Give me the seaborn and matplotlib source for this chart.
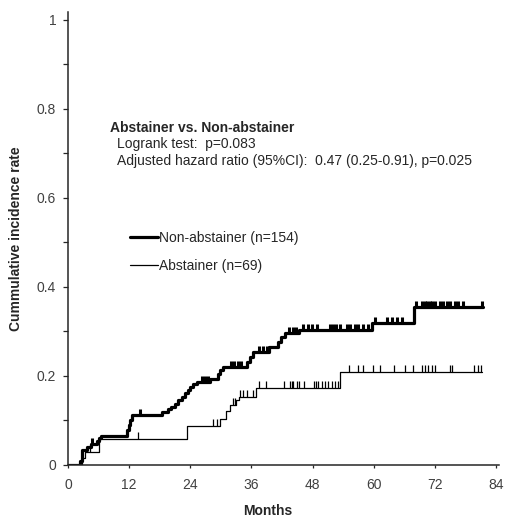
import numpy as np
import pandas as pd
import seaborn as sns
import matplotlib
matplotlib.use("Agg")
import matplotlib.pyplot as plt
from matplotlib.path import Path
from matplotlib.ticker import MultipleLocator

# cumulative incidence step curves (event month, level after the step)
nonab_time = [0, 2.3, 2.7, 3.7, 4.6, 5.6, 6.0, 6.5, 11.5, 11.9, 12.2, 12.6,
              18.4, 19.7, 20.3, 21.0, 21.6, 22.3, 23.0, 23.6, 23.9, 24.6,
              25.3, 27.8, 29.5, 29.8, 30.5, 35.1, 35.7, 36.4, 39.5, 41.3,
              41.9, 42.6, 45.3, 59.6, 68.0, 81.5]
nonab_cuminc = [0, 0.008, 0.033, 0.040, 0.046, 0.053, 0.059, 0.065, 0.078,
                0.089, 0.100, 0.111, 0.119, 0.124, 0.130, 0.137, 0.145, 0.152,
                0.160, 0.167, 0.175, 0.182, 0.186, 0.192, 0.203, 0.212, 0.220,
                0.231, 0.242, 0.253, 0.263, 0.276, 0.287, 0.295, 0.302, 0.317,
                0.355, 0.355]
nonab_censor = [4.8, 14.1, 26.3, 26.9, 27.4, 32.0, 32.6, 33.3, 34.0, 37.4,
                38.3, 39.0, 43.3, 44.1, 44.8, 46.2, 47.2, 47.8, 48.8, 51.4,
                52.1, 52.7, 53.4, 54.7, 55.3, 56.3, 57.0, 58.0, 58.9, 60.3,
                62.6, 63.5, 64.5, 65.5, 68.4, 69.4, 70.0, 70.4, 71.0, 71.4,
                72.0, 73.0, 73.7, 74.3, 75.0, 76.0, 76.6, 77.6, 81.2]

abst_time = [0, 2.7, 3.3, 6.1, 23.4, 29.9, 31.1, 31.8, 33.0, 33.5, 37.0,
             53.4, 81.2]
abst_cuminc = [0, 0.0145, 0.029, 0.058, 0.087, 0.102, 0.120, 0.133, 0.145,
               0.152, 0.171, 0.207, 0.207]
abst_censor = [4.3, 13.7, 28.5, 29.2, 32.4, 32.8, 33.8, 34.4, 35.1, 36.4,
               37.4, 38.9, 42.3, 43.6, 43.9, 44.2, 44.9, 45.4, 46.3, 48.3,
               48.7, 49.1, 49.8, 50.4, 51.1, 51.8, 52.4, 52.9, 55.2, 57.0,
               58.0, 59.9, 61.2, 63.9, 66.1, 67.8, 69.4, 70.1, 70.7, 71.4,
               72.0, 75.0, 75.3, 79.6, 80.5, 81.0]

groups = ["Non-abstainer (n=154)", "Abstainer (n=69)"]
x_ticks = [0, 12, 24, 36, 48, 60, 72, 84]
y_ticks = [0, 0.2, 0.4, 0.6, 0.8, 1]
y_tick_labels = ["0", "0.2", "0.4", "0.6", "0.8", "1"]


def step_value(times, levels, t):
    i = np.searchsorted(times, t, side="right") - 1
    return np.asarray(levels)[i]


sns.set_style("ticks")
plt.rcParams["font.family"] = ["Liberation Sans", "DejaVu Sans"]

curves = pd.concat([
    pd.DataFrame({"month": nonab_time, "cuminc": nonab_cuminc, "group": groups[0]}),
    pd.DataFrame({"month": abst_time, "cuminc": abst_cuminc, "group": groups[1]}),
])
cens_nonab = pd.DataFrame({"month": nonab_censor,
                           "cuminc": step_value(nonab_time, nonab_cuminc, nonab_censor)})
cens_abst = pd.DataFrame({"month": abst_censor,
                          "cuminc": step_value(abst_time, abst_cuminc, abst_censor)})

fig = plt.figure(figsize=(5.08, 5.18), dpi=100)
ax = fig.add_axes([68 / 508, (518 - 464.5) / 518, 431 / 508, 452.5 / 518])

sns.lineplot(data=curves, x="month", y="cuminc", hue="group", size="group",
             hue_order=groups, size_order=groups,
             palette={groups[0]: "black", groups[1]: "black"},
             sizes={groups[0]: 2.3, groups[1]: 0.9},
             drawstyle="steps-post", estimator=None, ax=ax)

# censor marks: short vertical ticks standing on the curve
tick = Path([(0, 0), (0, 1)], [Path.MOVETO, Path.LINETO])
sns.scatterplot(data=cens_nonab, x="month", y="cuminc", marker=tick, s=85,
                color="black", edgecolor="black", linewidth=2.2, ax=ax, legend=False)
sns.scatterplot(data=cens_abst, x="month", y="cuminc", marker=tick, s=115,
                color="black", edgecolor="black", linewidth=0.9, ax=ax, legend=False)

ax.set_xlim(0, 84.6)
ax.set_ylim(0, 1.017)
ax.set_xticks(x_ticks)
ax.set_yticks(y_ticks)
ax.set_yticklabels(y_tick_labels)
ax.yaxis.set_minor_locator(MultipleLocator(0.1))
ax.tick_params(axis="x", length=2.5, width=0.9, pad=7.5, labelsize=10, labelcolor="#404040")
ax.tick_params(axis="y", which="both", length=3.5, width=0.9, pad=5,
               labelsize=10, labelcolor="#404040")
for s in ["left", "bottom"]:
    ax.spines[s].set_linewidth(1.1)
sns.despine(ax=ax)

ax.set_xlabel("Months", fontsize=10, fontweight="bold", va="center")
ax.xaxis.set_label_coords(0.464, -0.1017)
ax.set_ylabel("Cummulative incidence rate", fontsize=10, fontweight="bold", va="center")
ax.yaxis.set_label_coords(-0.12, 0.5)

ax.text(0.0974, 0.7436, "Abstainer vs. Non-abstainer", transform=ax.transAxes,
        fontsize=10, fontweight="bold", va="center", ha="left")
ax.text(0.1129, 0.708, "Logrank test:  p=0.083", transform=ax.transAxes,
        fontsize=10, va="center", ha="left")
ax.text(0.1129, 0.6718, "Adjusted hazard ratio (95%CI):  0.47 (0.25-0.91), p=0.025",
        transform=ax.transAxes, fontsize=10, va="center", ha="left")

ax.legend(loc="upper left", bbox_to_anchor=(0.1439, 0.517), frameon=False,
          fontsize=10, handlelength=2.0, handletextpad=0.1, labelspacing=1.04,
          borderpad=0, borderaxespad=0)

fig.savefig("out.png", dpi=100)
